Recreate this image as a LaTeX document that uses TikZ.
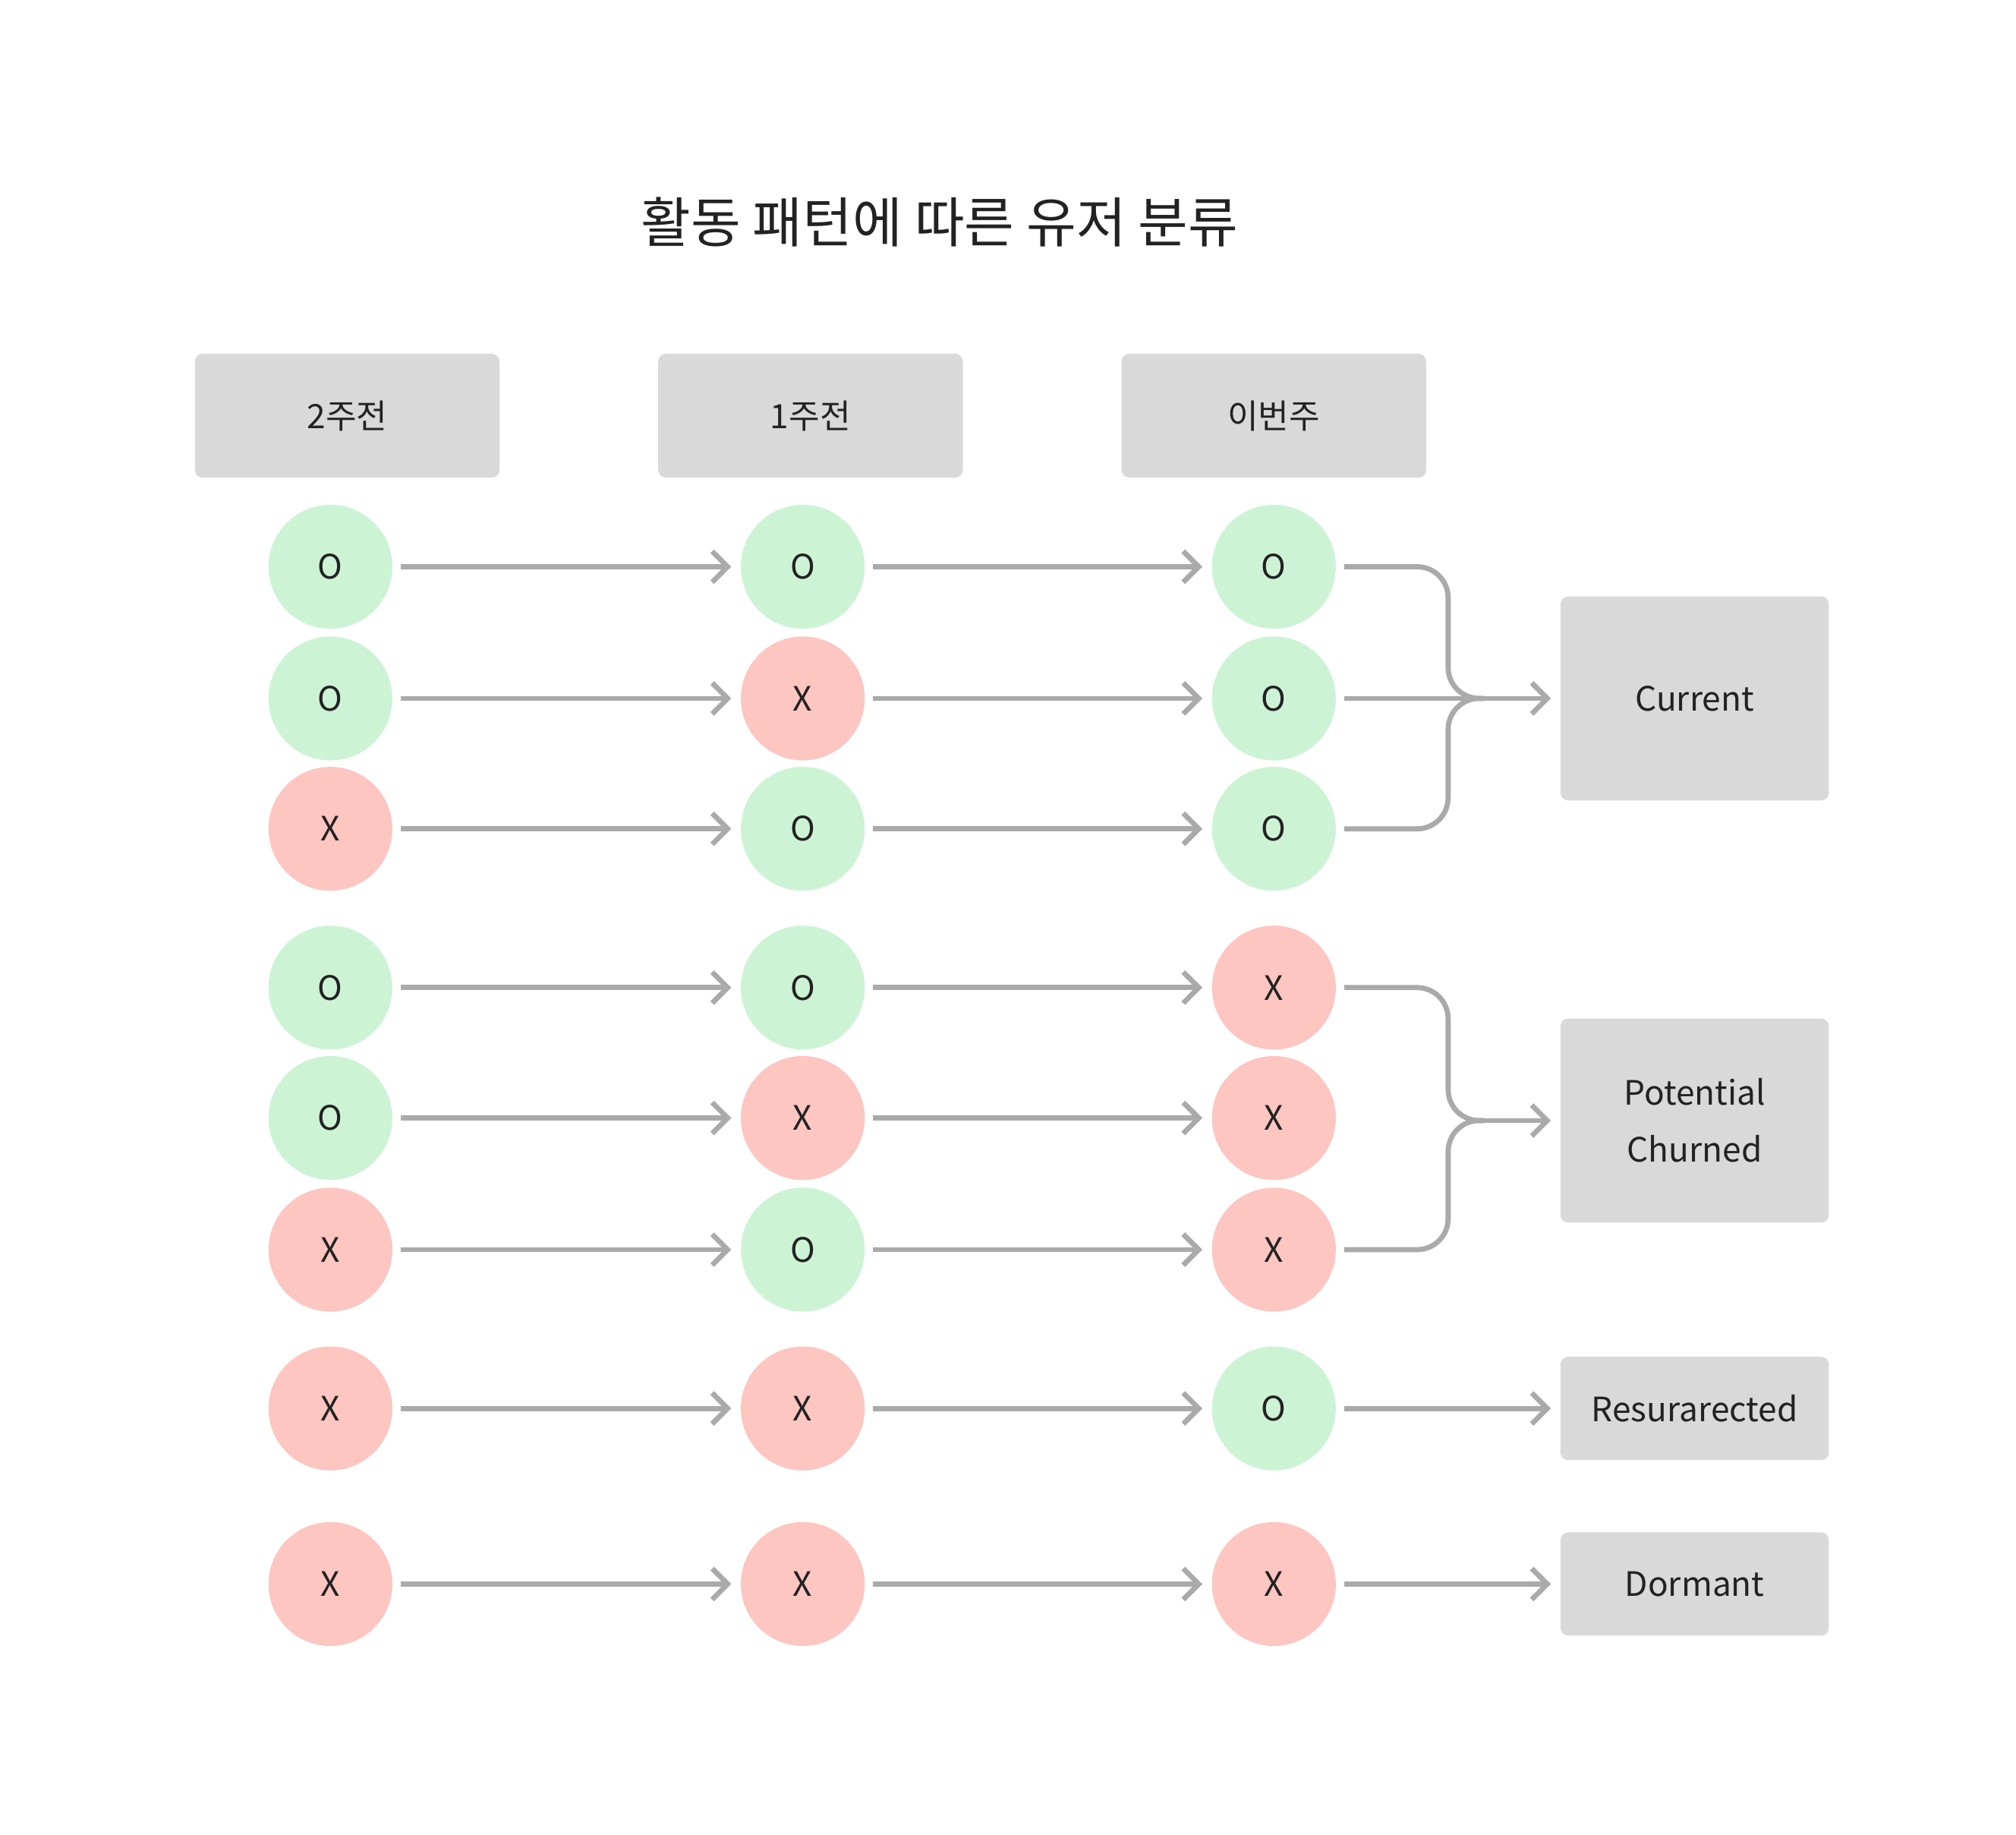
\documentclass[tikz,border=0pt]{standalone}
\usepackage{fontspec}
\setmainfont{Noto Sans CJK KR}
\usetikzlibrary{arrows.meta}
\definecolor{gr}{HTML}{CDF3D5}
\definecolor{rd}{HTML}{FDC6C1}
\definecolor{bx}{HTML}{D9D9D9}
\definecolor{ln}{HTML}{AAAAAA}
\definecolor{tx}{HTML}{222222}
\begin{document}
\begin{tikzpicture}[x=0.5pt,y=-0.5pt,
  on/.style={circle,fill=gr,minimum size=48pt,inner sep=0,text=tx,font=\fontsize{13}{15}\selectfont},
  off/.style={circle,fill=rd,minimum size=48pt,inner sep=0,text=tx,font=\fontsize{13}{15}\selectfont},
  hd/.style={fill=bx,rounded corners=3pt,minimum width=118pt,minimum height=48pt,text=tx,font=\fontsize{13}{15}\selectfont},
  res/.style={fill=bx,rounded corners=3pt,minimum width=104pt,text=tx,align=center,font=\fontsize{13}{22}\selectfont},
  con/.style={draw=ln,line width=2pt,-{Straight Barb[length=6pt,width=12pt,line width=2pt]},shorten <=3pt,shorten >=3.5pt},
  br/.style={draw=ln,line width=2pt,rounded corners=12pt}]
\useasboundingbox (0,0) rectangle (1562,1421);
\node[text=tx,font=\fontsize{21}{25}\selectfont] (title) at (728,172) {활동 패턴에 따른 유저 분류};
\node[hd] (h1) at (269,322) {2주전};
\node[hd] (h2) at (628,322) {1주전};
\node[hd] (h3) at (987,322) {이번주};
\foreach \r/\y/\a/\b/\c in {1/439/on/on/on,2/541/on/off/on,3/642/off/on/on,4/765/on/on/off,5/866/on/off/off,6/968/off/on/off,7/1091/off/off/on,8/1227/off/off/off}{
  \node[\a] (a\r) at (256,\y) {\ifx\a\relax\fi};
  \node[\b] (b\r) at (622,\y) {};
  \node[\c] (c\r) at (987,\y) {};
}
\foreach \r/\a/\b/\c in {1/O/O/O,2/O/X/O,3/X/O/O,4/O/O/X,5/O/X/X,6/X/O/X,7/X/X/O,8/X/X/X}{
  \node[text=tx,font=\fontsize{13}{15}\selectfont] at (a\r) {\a};
  \node[text=tx,font=\fontsize{13}{15}\selectfont] at (b\r) {\b};
  \node[text=tx,font=\fontsize{13}{15}\selectfont] at (c\r) {\c};
  \draw[con] (a\r) -- (b\r);
  \draw[con] (b\r) -- (c\r);
}
\node[res,minimum height=79pt] (cur) at (1313,541) {Current};
\node[res,minimum height=79pt] (pot) at (1313,868) {Potential\\Churned};
\node[res,minimum height=40pt] (resu) at (1313,1091) {Resurarected};
\node[res,minimum height=40pt] (dor) at (1313,1227) {Dormant};
\coordinate (j1) at (1150,541);
\coordinate (j2) at (1150,868);
\draw[br] ([xshift=3pt]c1.east) -- (1122,439) -- (1122,541) -- (j1);
\draw[br] ([xshift=3pt]c3.east) -- (1122,642) -- (1122,541) -- (j1);
\draw[con] (c2) -- (cur);
\draw[br] ([xshift=3pt]c4.east) -- (1122,765) -- (1122,868) -- (j2);
\draw[br] ([xshift=3pt]c6.east) -- (1122,968) -- (1122,868) -- (j2);
\draw[con,shorten <=0pt] (j2) -- (pot);
\draw[con] (c7) -- (resu);
\draw[con] (c8) -- (dor);
\end{tikzpicture}
\end{document}
